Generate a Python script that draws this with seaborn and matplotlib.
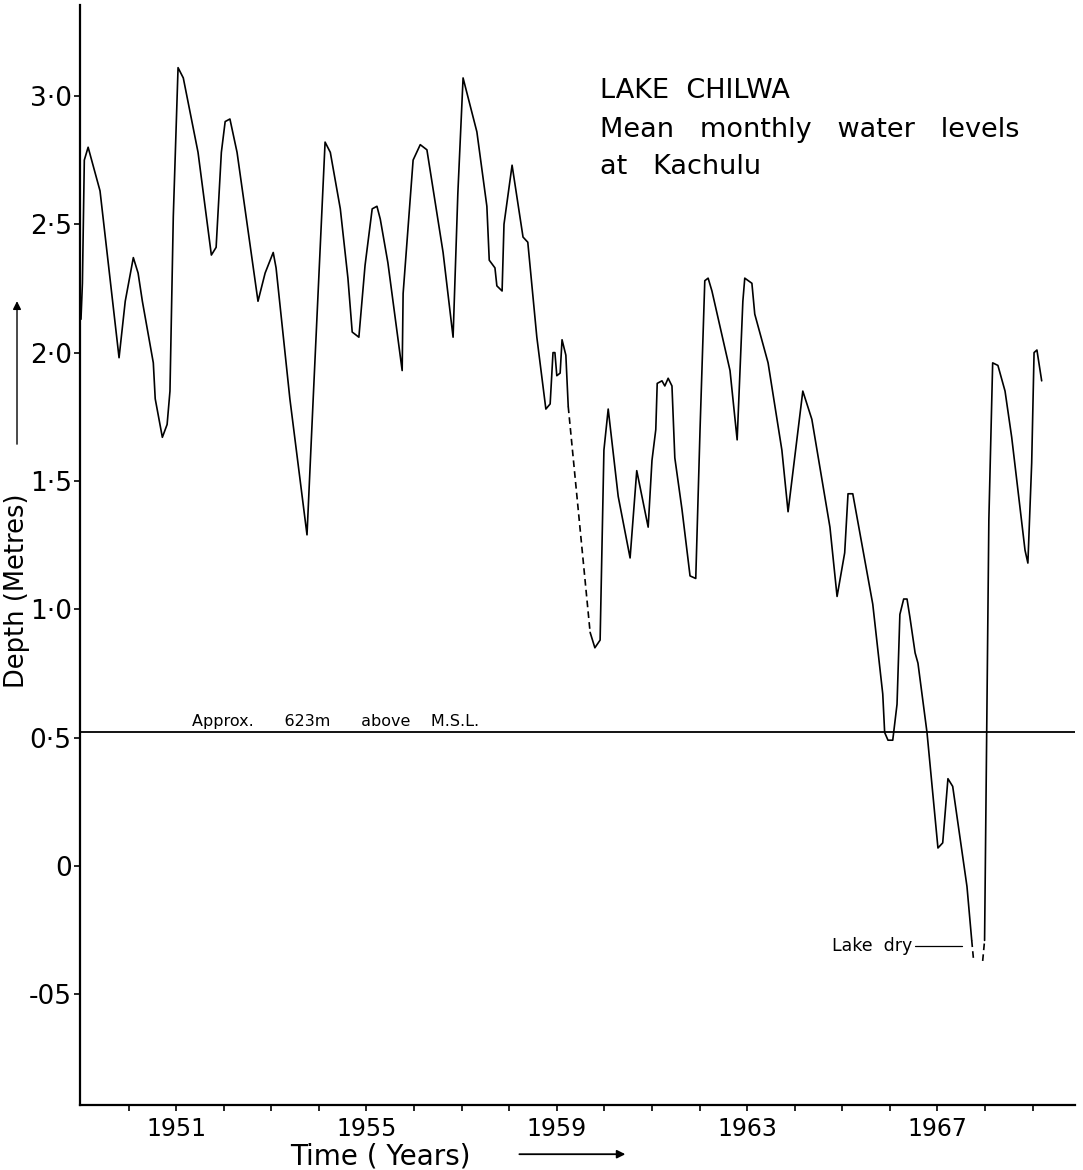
import pandas as pd
import matplotlib
matplotlib.use("Agg")
import matplotlib.pyplot as plt
import seaborn as sns

# Lake Chilwa - mean monthly water levels at Kachulu
years_1 = [1949.00, 1949.03, 1949.07, 1949.15, 1949.40, 1949.80, 1949.93, 1950.10, 1950.20, 1950.29,
           1950.52, 1950.56, 1950.71, 1950.81, 1950.87, 1950.94, 1951.04, 1951.15, 1951.46, 1951.74,
           1951.84, 1951.95, 1952.03, 1952.13, 1952.28, 1952.72, 1952.87, 1953.04, 1953.10, 1953.39,
           1953.75, 1953.88, 1954.13, 1954.24, 1954.45, 1954.61, 1954.70, 1954.84, 1954.97, 1955.12,
           1955.22, 1955.29, 1955.45, 1955.75, 1955.77, 1955.98, 1956.13, 1956.27, 1956.61, 1956.82,
           1956.92, 1957.03, 1957.32, 1957.53, 1957.58, 1957.70, 1957.74, 1957.85, 1957.89, 1958.06,
           1958.29, 1958.39, 1958.58, 1958.77, 1958.86, 1958.92, 1958.96, 1959.00, 1959.07, 1959.11,
           1959.19, 1959.24]
depth_1 = [2.13, 2.27, 2.75, 2.80, 2.63, 1.98, 2.20, 2.37, 2.31, 2.20,
           1.96, 1.82, 1.67, 1.72, 1.85, 2.53, 3.11, 3.07, 2.78, 2.38,
           2.41, 2.78, 2.90, 2.91, 2.78, 2.20, 2.31, 2.39, 2.33, 1.82,
           1.29, 1.82, 2.82, 2.78, 2.56, 2.29, 2.08, 2.06, 2.34, 2.56,
           2.57, 2.52, 2.35, 1.93, 2.23, 2.75, 2.81, 2.79, 2.39, 2.06,
           2.62, 3.07, 2.86, 2.57, 2.36, 2.33, 2.26, 2.24, 2.50, 2.73,
           2.45, 2.43, 2.06, 1.78, 1.80, 2.00, 2.00, 1.91, 1.92, 2.05,
           1.99, 1.79]

# gap in the record 1959 (dashed)
years_gap = [1959.24, 1959.70]
depth_gap = [1.79, 0.91]

years_2 = [1959.70, 1959.80, 1959.91, 1959.99, 1960.08, 1960.29, 1960.54, 1960.68, 1960.92, 1961.00,
           1961.08, 1961.11, 1961.21, 1961.27, 1961.34, 1961.42, 1961.48, 1961.63, 1961.80, 1961.92,
           1962.01, 1962.11, 1962.18, 1962.26, 1962.64, 1962.79, 1962.91, 1962.95, 1963.10, 1963.16,
           1963.44, 1963.73, 1963.86, 1964.17, 1964.36, 1964.74, 1964.89, 1965.05, 1965.12, 1965.22,
           1965.64, 1965.85, 1965.89, 1965.96, 1966.06, 1966.15, 1966.21, 1966.29, 1966.36, 1966.42,
           1966.53, 1966.59, 1966.78, 1967.01, 1967.11, 1967.22, 1967.32, 1967.62, 1967.72]
depth_2 = [0.91, 0.85, 0.88, 1.62, 1.78, 1.44, 1.20, 1.54, 1.32, 1.58,
           1.70, 1.88, 1.89, 1.87, 1.90, 1.87, 1.59, 1.39, 1.13, 1.12,
           1.70, 2.28, 2.29, 2.24, 1.93, 1.66, 2.20, 2.29, 2.27, 2.15,
           1.96, 1.62, 1.38, 1.85, 1.74, 1.32, 1.05, 1.22, 1.45, 1.45,
           1.02, 0.67, 0.52, 0.49, 0.49, 0.63, 0.98, 1.04, 1.04, 0.97,
           0.83, 0.79, 0.52, 0.07, 0.09, 0.34, 0.31, -0.08, -0.29]

# lake dry 1967-68 (dashed stubs)
years_dry_a = [1967.72, 1967.76]
depth_dry_a = [-0.29, -0.37]
years_dry_b = [1967.95, 1967.99]
depth_dry_b = [-0.37, -0.29]

years_3 = [1967.99, 1968.08, 1968.16, 1968.27, 1968.42, 1968.56, 1968.84, 1968.90, 1968.98, 1969.03,
           1969.09, 1969.19]
depth_3 = [-0.29, 1.35, 1.96, 1.95, 1.85, 1.67, 1.23, 1.18, 1.57, 2.00,
           2.01, 1.89]

msl_level = 0.52
year_ticks = list(range(1950, 1970))
year_labels = ["1951", "1955", "1959", "1963", "1967"]
depth_ticks = [3.0, 2.5, 2.0, 1.5, 1.0, 0.5, 0.0, -0.5]
depth_labels = ["3·0", "2·5", "2·0", "1·5", "1·0", "0·5", "0", "-05"]

parts = [(years_1, depth_1, "solid"), (years_gap, depth_gap, "dashed"),
         (years_2, depth_2, "solid"), (years_dry_a, depth_dry_a, "dashed"),
         (years_dry_b, depth_dry_b, "dashed"), (years_3, depth_3, "solid")]
rows = []
for i, (ys, ds, kind) in enumerate(parts):
    for y, d in zip(ys, ds):
        rows.append({"year": y, "depth": d, "seg": i, "kind": kind})
df = pd.DataFrame(rows)

sns.set_style("white")
plt.rcParams['font.family'] = ['DejaVu Sans']
plt.rcParams['text.color'] = 'black'
plt.rcParams['xtick.color'] = 'black'
plt.rcParams['ytick.color'] = 'black'

fig = plt.figure(figsize=(10.83, 11.7), dpi=100)
ax = fig.add_axes([0.0739, 0.0556, 0.9187, 0.9401])

sns.lineplot(data=df, x="year", y="depth", units="seg", style="kind", estimator=None,
             sort=False, color="black", lw=1.2, legend=False,
             dashes={"solid": "", "dashed": (4, 2.5)}, ax=ax)

ax.axhline(msl_level, color="black", lw=1.3)
ax.text(1951.34, msl_level + 0.012, "Approx.      623m      above    M.S.L.",
        fontsize=11.5, va="bottom", ha="left")

# lake dry note
ax.text(1966.46, -0.31, "Lake  dry", fontsize=12.5, va="center", ha="right")
ax.plot([1966.52, 1967.51], [-0.31, -0.31], color="black", lw=0.9)

# title block
ax.text(1959.9, 2.99, "LAKE  CHILWA", fontsize=19.5, va="baseline", ha="left")
ax.text(1959.9, 2.84, "Mean   monthly   water   levels", fontsize=19.5, va="baseline", ha="left")
ax.text(1959.9, 2.695, "at   Kachulu", fontsize=19.5, va="baseline", ha="left")

ax.set_xlim(1948.98, 1969.89)
ax.set_ylim(-0.931, 3.354)
ax.set_xticks(year_ticks)
ax.set_xticklabels([str(y) if str(y) in year_labels else "" for y in year_ticks], fontsize=17)
ax.set_yticks(depth_ticks)
ax.set_yticklabels(depth_labels, fontsize=19)
ax.tick_params(axis="x", bottom=True, direction="out", length=4.5, width=1.2, pad=4)
ax.tick_params(axis="y", left=True, direction="out", length=4, width=1.2, pad=2)
ax.set_xlabel("")
ax.set_ylabel("")

for side in ["top", "right"]:
    ax.spines[side].set_visible(False)
for side in ["left", "bottom"]:
    ax.spines[side].set_color("black")
    ax.spines[side].set_linewidth(1.6)

# axis titles with arrows
fig.text(0.351, 0.0115, "Time ( Years)", fontsize=20, ha="center", va="center")
fig.patches.append(matplotlib.patches.FancyArrowPatch(
    (0.477, 0.0135), (0.580, 0.0135), transform=fig.transFigure,
    arrowstyle="-|>", mutation_scale=12, color="black", lw=1.3))
fig.text(0.016, 0.495, "Depth (Metres)", fontsize=18.5, ha="center", va="center", rotation=90)
fig.patches.append(matplotlib.patches.FancyArrowPatch(
    (0.0157, 0.618), (0.0157, 0.745), transform=fig.transFigure,
    arrowstyle="-|>", mutation_scale=12, color="black", lw=1.0))

fig.savefig("out.png", dpi=100)
